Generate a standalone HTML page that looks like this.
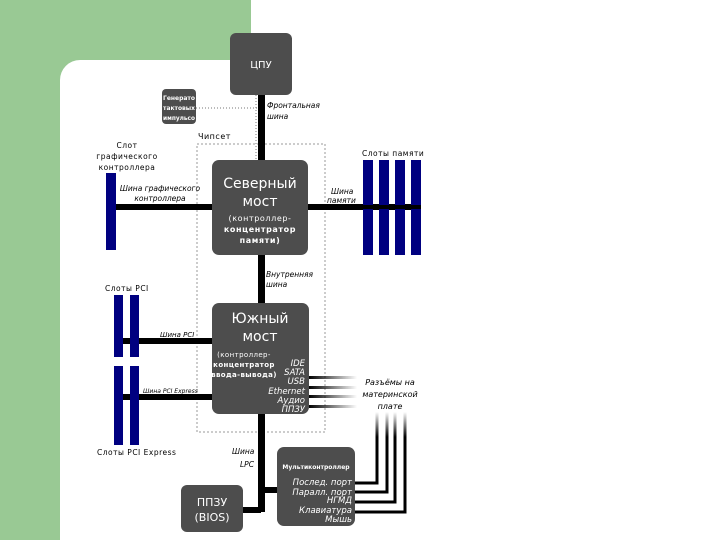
<!DOCTYPE html>
<html><head><meta charset="utf-8"><style>
body{margin:0;width:720px;height:540px;overflow:hidden;background:#fff}
svg{display:block}
text{font-family:"DejaVu Sans","Liberation Sans",sans-serif}
</style></head><body>
<svg width="720" height="540" viewBox="0 0 720 540" xmlns="http://www.w3.org/2000/svg">
<defs>
<linearGradient id="fh" x1="0" x2="1" y1="0" y2="0"><stop offset="0" stop-color="#000"/><stop offset="1" stop-color="#000" stop-opacity="0"/></linearGradient>
<linearGradient id="fv" x1="0" x2="0" y1="1" y2="0"><stop offset="0" stop-color="#000"/><stop offset="0.5" stop-color="#000"/><stop offset="1" stop-color="#000" stop-opacity="0"/></linearGradient>
</defs>
<rect x="0" y="0" width="720" height="540" fill="#fff"/>
<path d="M0 0H251V60H80A20 20 0 0 0 60 80V540H0Z" fill="#99c994"/>
<rect x="197" y="144" width="128" height="288" fill="none" stroke="#999" stroke-dasharray="2,2"/>
<text x="198" y="139" font-size="8" letter-spacing="0.5">Чипсет</text>
<rect x="258" y="95" width="7" height="66" fill="#000"/>
<line x1="256" y1="95" x2="256" y2="160" stroke="#777" stroke-dasharray="1,2"/>
<line x1="196" y1="108" x2="258" y2="108" stroke="#777" stroke-dasharray="1,2"/>
<rect x="258" y="255" width="7" height="50" fill="#000"/>
<rect x="258" y="414" width="7" height="98" fill="#000"/>
<rect x="258" y="487" width="20" height="6" fill="#000"/>
<rect x="243" y="507" width="18" height="6" fill="#000"/>
<rect x="113" y="204" width="100" height="6" fill="#000"/>
<rect x="114" y="338" width="99" height="6" fill="#000"/>
<rect x="114" y="394" width="99" height="6" fill="#000"/>
<rect x="307" y="204" width="113" height="6" fill="#000"/>
<g fill="#000080">
<rect x="106" y="173" width="10" height="77"/>
<rect x="363" y="160" width="10" height="95"/><rect x="379" y="160" width="10" height="95"/>
<rect x="395" y="160" width="10" height="95"/><rect x="411" y="160" width="10" height="95"/>
<rect x="114" y="295" width="9" height="62"/><rect x="130" y="295" width="9" height="62"/>
<rect x="114" y="366" width="9" height="79"/><rect x="130" y="366" width="9" height="79"/>
</g>
<g fill="#000"><rect x="363" y="205" width="58" height="4"/></g>
<g fill="url(#fh)">
<rect x="309" y="376" width="48" height="3"/><rect x="309" y="386" width="48" height="3"/>
<rect x="309" y="395" width="48" height="3"/><rect x="309" y="405" width="48" height="3"/>
</g>
<g fill="none" stroke="#000" stroke-width="3">
<path d="M355 483H377V460"/><path d="M355 492H387V460"/><path d="M355 502H395V460"/><path d="M355 512H405V460"/>
</g>
<g fill="url(#fv)">
<rect x="375.5" y="412" width="3" height="50"/><rect x="385.5" y="412" width="3" height="50"/>
<rect x="393.5" y="412" width="3" height="50"/><rect x="403.5" y="412" width="3" height="50"/>
</g>
<g fill="#4d4d4d">
<rect x="230" y="33" width="62" height="62" rx="6"/>
<rect x="162" y="89" width="34" height="35" rx="4"/>
<rect x="212" y="160" width="96" height="95" rx="7"/>
<rect x="212" y="303" width="97" height="111" rx="7"/>
<rect x="277" y="447" width="78" height="79" rx="7"/>
<rect x="181" y="485" width="62" height="47" rx="6"/>
</g>
<g fill="#fff" text-anchor="middle">
<text x="261" y="68" font-size="10">ЦПУ</text>
<text x="179" y="100" font-size="6.5" font-weight="bold" textLength="32" lengthAdjust="spacingAndGlyphs">Генерато</text>
<text x="179" y="110" font-size="6.5" font-weight="bold" textLength="32" lengthAdjust="spacingAndGlyphs">тактовых</text>
<text x="179" y="120" font-size="6.5" font-weight="bold" textLength="32" lengthAdjust="spacingAndGlyphs">импульсо</text>
<text x="260" y="188" font-size="14">Северный</text>
<text x="260" y="206" font-size="14">мост</text>
<text x="260" y="221" font-size="8" letter-spacing="0.6">(контроллер-</text>
<text x="260" y="232" font-size="8" font-weight="bold" letter-spacing="0.6">концентратор</text>
<text x="260" y="243" font-size="8" font-weight="bold" letter-spacing="0.6">памяти)</text>
<text x="260" y="323" font-size="14">Южный</text>
<text x="260" y="341" font-size="14">мост</text>
<text x="244" y="357" font-size="7" letter-spacing="0.4">(контроллер-</text>
<text x="244" y="367" font-size="7" font-weight="bold" letter-spacing="0.4">концентратор</text>
<text x="244" y="377" font-size="7" font-weight="bold" letter-spacing="0.4">ввода-вывода)</text>
<text x="316" y="469" font-size="6" font-weight="bold">Мультиконтроллер</text>
<text x="212" y="506" font-size="11">ППЗУ</text>
<text x="212" y="521" font-size="11">(BIOS)</text>
</g>
<g fill="#fff" text-anchor="end" font-style="italic" font-size="8.5">
<text x="305" y="366">IDE</text><text x="305" y="375">SATA</text><text x="305" y="384">USB</text>
<text x="305" y="394">Ethernet</text><text x="305" y="403">Аудио</text><text x="305" y="412">ППЗУ</text>
<text x="352" y="485">Послед. порт</text><text x="352" y="495">Паралл. порт</text><text x="352" y="503">НГМД</text>
<text x="352" y="513">Клавиатура</text><text x="352" y="522">Мышь</text>
</g>
<g fill="#000" font-size="7.5" letter-spacing="0.5">
<text x="127" y="148" text-anchor="middle">Слот</text>
<text x="127" y="159" text-anchor="middle">графического</text>
<text x="127" y="170" text-anchor="middle">контроллера</text>
<text x="362" y="156">Слоты памяти</text>
<text x="105" y="291">Слоты PCI</text>
<text x="97" y="455">Слоты PCI Express</text>
</g>
<g fill="#000" font-size="7.5" font-style="italic">
<text x="160" y="191" text-anchor="middle">Шина графического</text>
<text x="160" y="201" text-anchor="middle">контроллера</text>
<text x="331" y="194">Шина</text><text x="327" y="203">памяти</text>
<text x="267" y="108">Фронтальная</text><text x="267" y="119">шина</text>
<text x="266" y="277">Внутренняя</text><text x="266" y="287">шина</text>
<text x="160" y="337" font-size="7">Шина PCI</text>
<text x="143" y="393" font-size="6">Шина PCI Express</text>
<text x="232" y="454">Шина</text><text x="240" y="467">LPC</text>
<text x="390" y="385" text-anchor="middle" font-size="8">Разъёмы на</text>
<text x="390" y="397" text-anchor="middle" font-size="8">материнской</text>
<text x="390" y="409" text-anchor="middle" font-size="8">плате</text>
</g>
</svg>
</body></html>
